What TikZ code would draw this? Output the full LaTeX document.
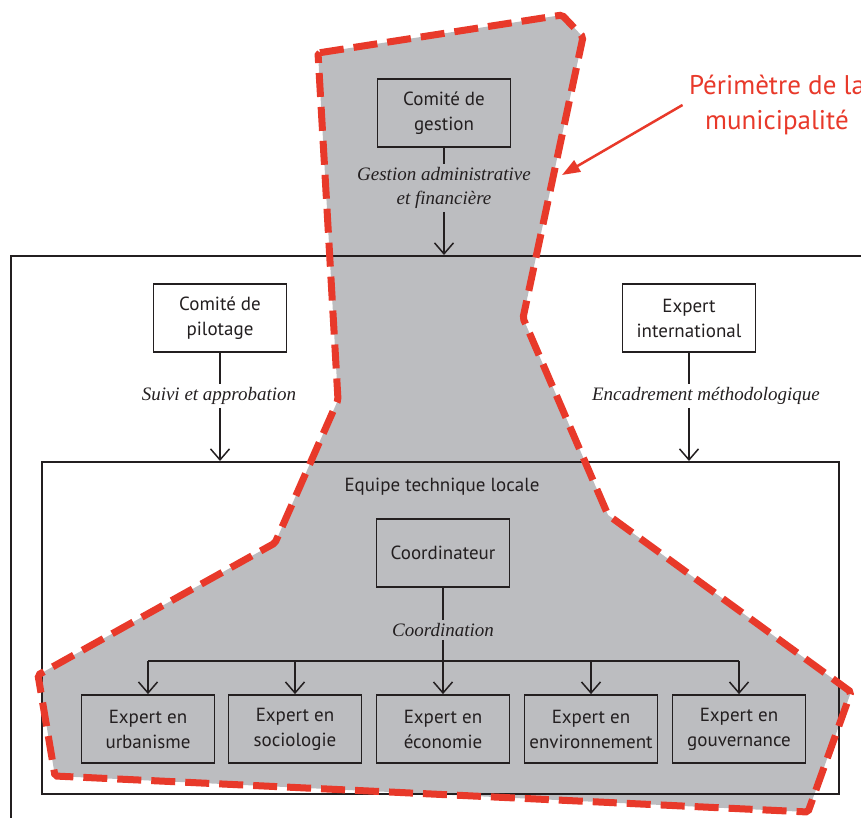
\documentclass[tikz,border=0pt]{standalone}
\usepackage{fontspec}
\setmainfont{Liberation Serif}
\setsansfont{PT Sans}
\usetikzlibrary{arrows.meta}
\definecolor{perim}{HTML}{E8392A}
\definecolor{zone}{HTML}{BCBDC0}
\definecolor{ink}{HTML}{231F20}

\begin{document}
\begin{tikzpicture}[
    x=1pt, y=-1pt,
    font=\sffamily\fontsize{19}{25}\selectfont,
    box/.style={draw=ink, line width=1.8pt, text=ink, align=center, minimum width=133pt, minimum height=68pt, inner sep=1pt},
    frame/.style={draw=ink, line width=1.6pt, inner sep=0pt},
    lbl/.style={font=\rmfamily\itshape\fontsize{19}{24}\selectfont, text=ink, align=center, inner sep=3pt},
    flow/.style={draw=ink, line width=1.5pt},
    arr/.style={flow, -{Straight Barb[length=11pt, width=19pt, line width=1.5pt]}},
    perimeter/.style={draw=perim, line width=7pt, dash pattern=on 24pt off 10pt, rounded corners=2pt},
    perimarr/.style={draw=perim, line width=2.5pt, -{Triangle[length=18pt, width=13pt]}}
]

    \useasboundingbox (0,0) rectangle (861,818);
    \clip (0,0) rectangle (861,818);

    % Coordinates
    \coordinate (p1) at (318,53);
    \coordinate (p2) at (562,15);
    \coordinate (p3) at (583,37);
    \coordinate (p4) at (523,318);
    \coordinate (p5) at (608,515);
    \coordinate (p6) at (851,692);
    \coordinate (p7) at (808,812);
    \coordinate (p8) at (55,776);
    \coordinate (p9) at (38,675);
    \coordinate (p10) at (275,543);
    \coordinate (p11) at (338,400);
    \coordinate (branch) at (443,661);
    \coordinate (perimtip) at (562,175);

    % Municipal zone
    \fill[zone] (p1) -- (p2) -- (p3) -- (p4) -- (p5) -- (p6) -- (p7) -- (p8) -- (p9) -- (p10) -- (p11) -- cycle;

    % Frames
    \node[frame, minimum width=880pt, minimum height=600pt, anchor=north west] (outer) at (10,255) {};
    \node[frame, minimum width=797pt, minimum height=332pt, anchor=north west] (inner) at (41,461) {};
    \node[text=ink] (equipe) at (442,487) {Equipe technique locale};

    % Nodes
    \node[box] (gestion) at (444,113) {Comité de\\gestion};
    \node[box] (pilotage) at (220,318) {Comité de\\pilotage};
    \node[box] (expint) at (689,318) {Expert\\international};
    \node[box] (coord) at (443,553) {Coordinateur};
    \foreach \name/\x/\txt in {urba/148/urbanisme, socio/295/sociologie, eco/443/économie, envi/591/environnement, gouv/739/gouvernance}
        \node[box] (\name) at (\x,729) {Expert en\\\txt};

    % Labels
    \node[lbl] (gestlbl) at (444,188) {Gestion administrative\\et financière};
    \node[lbl] (suivilbl) at (219,396) {Suivi et approbation};
    \node[lbl] (enclbl) at (706,396) {Encadrement méthodologique};
    \node[lbl] (coordlbl) at (443,630) {Coordination};

    % Links
    \draw[flow] (gestion) -- (gestlbl);
    \draw[arr] (gestlbl) -- (gestlbl |- outer.north);
    \draw[flow] (pilotage) -- (pilotage |- suivilbl.north);
    \draw[arr] (pilotage |- suivilbl.south) -- (pilotage |- inner.north);
    \draw[flow] (expint) -- (expint |- enclbl.north);
    \draw[arr] (expint |- enclbl.south) -- (expint |- inner.north);
    \draw[flow] (coord) -- (coordlbl);
    \draw[flow] (coordlbl) -- (branch);
    \draw[flow] (urba |- branch) -- (gouv |- branch);
    \foreach \name in {urba, socio, eco, envi, gouv}
        \draw[arr] (\name |- branch) -- (\name);

    % Perimeter
    \draw[perimeter] (p1) -- (p2) -- (p3) -- (p4) -- (p5) -- (p6) -- (p7) -- (p8) -- (p9) -- (p10) -- (p11) -- cycle;
    \node[text=perim, font=\sffamily\fontsize{27}{35}\selectfont, align=center] (perimlbl) at (777,105) {Périmètre de la\\municipalité};
    \draw[perimarr] ([xshift=-3pt]perimlbl.west) -- (perimtip);

\end{tikzpicture}
\end{document}
